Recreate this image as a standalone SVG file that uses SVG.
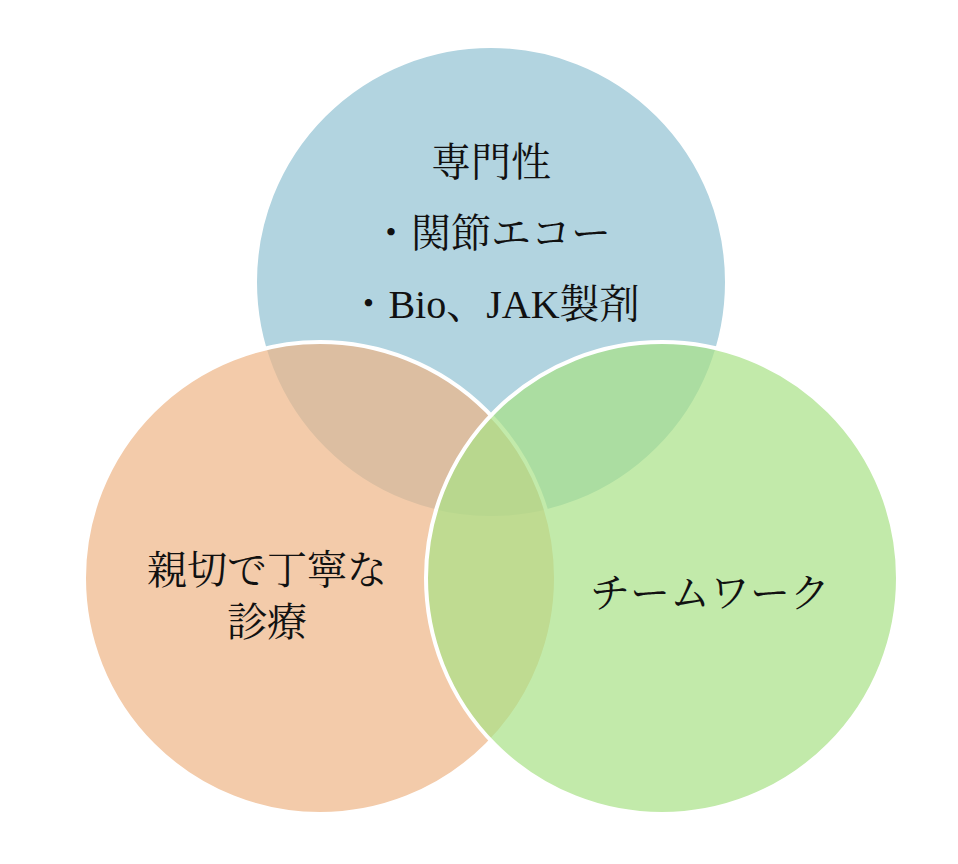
<svg xmlns="http://www.w3.org/2000/svg" width="958" height="864" viewBox="0 0 958 864">
<style>
.c{stroke:#fff;stroke-width:4;fill-opacity:0.7}
.t{font-family:"Liberation Serif","Noto Serif CJK JP","Noto Sans CJK JP",serif;font-size:40px;fill:#111;text-anchor:middle}
</style>
<rect width="958" height="864" fill="#fff"/>
<g id="top"><circle class="c" cx="491" cy="282" r="236" fill="#92c2d3"/></g>
<g id="left"><circle class="c" cx="320" cy="578" r="236" fill="#eeb586"/></g>
<g id="right"><circle class="c" cx="662" cy="578" r="236" fill="#a8e186" fill-opacity="0.6"/></g>
<g id="connectors"/>
<g id="labels">
<text class="t" x="491" y="176">専門性</text>
<text class="t" x="491" y="247">・関節エコー</text>
<text class="t" x="494" y="318">・Bio、JAK製剤</text>
<text class="t" x="267" y="584">親切で丁寧な</text>
<text class="t" x="267" y="636">診療</text>
<text class="t" x="710" y="607">チームワーク</text>
</g>
</svg>
